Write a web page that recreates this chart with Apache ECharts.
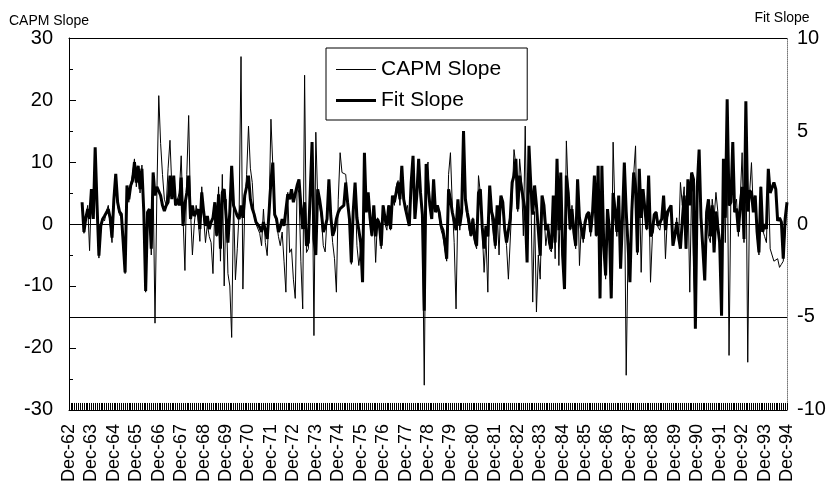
<!DOCTYPE html>
<html><head><meta charset="utf-8">
<script src="https://cdn.jsdelivr.net/npm/echarts@6/dist/echarts.min.js"></script>
<style>html,body{margin:0;padding:0;background:#fff}#c{width:838px;height:485px}</style>
</head><body><div id="c"></div>
<script>
// Monthly observations, Dec-62 .. Dec-94 (one row = 12 months, row k starts at Dec of year 62+k)
const monthNames = ['Jan','Feb','Mar','Apr','May','Jun','Jul','Aug','Sep','Oct','Nov','Dec'];
const firstYear = 62;   // Dec-62
const monthCount = 385; // Dec-62 .. Dec-94

const capmSlope = [
  null,null,null,null,null,null,null, 3,-1.5,1,3,-4.3,
  5,2,12,2,-5.5,-1,1,0.5,2,3,0,-3,
  3,8,3,1.5,1,-4,-8,6,3.5,6.5,8,10.5,
  6,9,5,9.5,1,-11,1,2,-5,6,-16,5,
  20.7,13,8,4,3,9,13.5,6,7,3,3,5,
  11,1,-7.5,8,17.5,2,-5,0,3,1,-2.8,6,
  1,-3,0,-2,-3,-8,3,-2,6,-6,8,-10,
  4,-8,-10,-18.3,4,-9,-4,2,27,-10.5,3,8,
  15.8,9,6.7,1.3,0,-0.3,-1.5,-3.5,2.4,-3,-5.1,1.9,
  16.9,9.4,1.3,0.3,-2,-3.5,-1.3,-6,-11,5.1,-4.6,-4,
  -8.9,-12,6,5,-6,-13.7,24,-4.6,-4,3,12,-18,
  14.8,4,3,1,-3.5,-4.5,1,7,1,-3,-5.6,-11,
  4,11.5,8.3,8.3,8,4,0,-6.5,1,6,-3.5,-6.7,
  -4,-9,11,2,5,0,-2,2,-6.2,1,-1,-4,
  3,0,-1,3,-1,4,3,6,7,3,9,4,
  2,3,0,7,10.5,1,5,10,5,0,-26,8,
  10,3,2,6,2,3,1,-1,-2,-4,-6,8,
  11.5,3,-3,-13.7,3,-1,2,14,3,1,-1,-2,
  1,-3,-4,7.8,5,-1,-7.8,-2,-11,6,1,-2,
  -4,2,-5,4,3,-1,-3.5,-8.9,-8.9,4,12,9.4,
  2,10.5,7,-1.9,15.8,-5,12,5,-12.6,2,-14.2,-5,
  -8.9,3,2,-3.5,-1,-4,-4.5,4,-5.6,9,-6.7,7,
  -6.7,-9,13.4,5,-1,3,-2,-4,7,-6.7,0,-3,
  -0.5,1,2,-2,1,6,-2,8,-11,8,-3.5,-8.9,
  2,-1,-11,13.2,2,-2,4,-7,0,9,-24.4,-4,
  -9,2,8,12.6,-5,8,-7.8,4,2,-1,7,-9.4,
  -2,1,2,-0.5,-1,1,4,-5.6,1,2,3,-3.5,
  -2,1,-3,6.7,3,6,-4,6,-11,6,-7,-15,
  5,11.5,2,-4,-5,1,-2,-3,4,1,5.1,2,
  -5,-14,10,-3,14,-21.2,5,12,3,4,-2,4,
  11.5,-3,14,-22.3,5,9.9,2,4,-2,-5,6,-1,
  -2,-3,7,-4,-5,-6,-6,-5.6,-7,-6.5,-6,-1,
  3
];

const fitSlope = [
  null,null,null,null,null,null,null, 1.17,-0.43,0.33,0.8,0.27,
  1.87,0.27,4.13,1.0,-1.7,-0.1,0.27,0.43,0.5,0.8,0.33,-0.73,
  1.33,2.7,1.17,0.67,0.53,-1.0,-2.6,2.07,1.33,2.07,2.33,3.33,
  2.23,3.13,1.87,2.97,0.67,-3.6,0.63,0.8,-1.33,2.77,1.53,2.0,
  1.97,1.53,1.0,0.7,1.0,1.17,2.6,1.33,2.6,1.0,1.33,1.0,
  2.5,-0.1,1.07,1.67,2.6,0.27,1.0,0.43,0.43,0.8,-0.27,1.7,
  0.67,-0.1,0.43,-0.27,0.1,0.33,1.17,-0.63,1.6,-1.33,1.7,1.87,
  1.87,-1.0,0.67,3.13,1.0,1.0,0.43,0.27,1.0,0.33,1.53,2.0,
  2.6,1.33,0.83,0.53,0.1,0,-0.17,-0.43,0.1,-0.33,-0.8,0.63,
  2.33,3.3,0.5,0.27,-0.43,-0.17,0.27,-0.1,0,1.6,1.33,1.87,
  1.17,1.17,2.07,2.4,1.0,-0.27,1.17,-1.17,-1.0,1.67,4.4,-0.8,
  -1.67,1.87,1.33,0.63,-0.43,-0.17,0.27,2.4,0.43,-0.63,-0.33,0.27,
  0.63,0.83,0.83,1.0,2.23,1.17,0.27,-2.07,0.67,2.23,0.33,-0.33,
  -1.0,-3.13,3.83,0.63,1.7,0.33,-0.63,1.0,-0.67,0.27,0,-1.17,
  1.0,0.33,-0.1,1.0,-0.27,1.53,1.17,1.7,2.23,1.33,3.13,1.33,
  0.8,0.8,-0.1,2.23,3.67,0.27,1.53,3.5,1.67,0.5,-4.67,3.23,
  3.13,1.0,0.27,2.4,0.63,1.0,0.63,-0.1,-0.33,-1.0,-1.87,1.87,
  1.33,0.63,0.17,-0.33,1.33,-0.1,0.63,5.0,1.33,0.63,0.1,-0.63,
  0.27,-0.8,-1.17,1.67,1.87,-0.17,-1.33,-0.1,-0.67,2.07,0.67,0.27,
  -1.17,1.0,0,1.53,1.17,-0.27,-1.0,-1.0,0.33,2.23,2.6,3.5,
  0.8,2.6,2.6,1.33,0.67,-2.07,4.2,2.07,0.5,2.07,1.0,-0.33,
  -1.7,1.53,1.0,-0.33,0,-1.0,-1.33,1.53,-1.0,3.5,-0.33,2.77,
  -1.67,-3.5,2.6,1.67,-0.27,0.8,-0.43,-1.17,2.4,0.33,0.27,-0.8,
  0.1,0.5,0.63,-0.43,0.63,2.6,-0.63,3.13,-4.0,3.13,-1.17,-2.77,
  0.8,-0.27,-4.0,1.67,0.8,-0.43,1.53,-2.4,0.27,3.3,0.67,-1.17,
  -3.13,0.67,2.77,2.0,-1.53,2.97,0.33,1.87,0.8,-0.27,2.6,-0.67,
  -0.43,0.5,0.63,-0.1,-0.1,0.27,1.53,-0.33,0.63,0.63,1.0,-1.17,
  -0.63,0.1,-0.67,-1.33,0.17,1.53,-1.33,2.4,1.0,2.77,2.4,-5.63,
  2.0,4.0,0.33,-1.33,-3.03,0.63,1.33,-0.67,1.0,-1.53,0.67,0.63,
  -1.0,-4.93,3.5,0.33,6.7,1.0,1.17,4.4,0.63,0.83,-0.43,1.0,
  2.0,-0.8,6.6,0.67,1.8,1.67,0.63,1.53,-0.43,-1.53,2.0,-0.43,
  0,-0.27,2.97,1.67,1.7,2.23,1.87,0.17,0.33,0.1,-1.87,0.27,
  1.17
];

const leftTicks = {min: -30, max: 30, interval: 10};
const rightTicks = {min: -10, max: 10, interval: 5};
const refLinesCapm = [0, -15];

const categories = [];
for (let i = 0; i < monthCount; i++) {
  const m = (11 + i) % 12;
  const y = firstYear + Math.floor((11 + i) / 12);
  categories.push(monthNames[m] + '-' + String(y % 100).padStart(2, '0'));
}

// legend line samples: bounding box 40x14, a horizontal band in the middle
const thinIcon = 'path://M0,0L40,0L40,0.001L0,0.001Z M0,6.5L40,6.5L40,7.5L0,7.5Z M0,13.999L40,13.999L40,14L0,14Z';
const thickIcon = 'path://M0,0L40,0L40,0.001L0,0.001Z M0,5.5L40,5.5L40,8.5L0,8.5Z M0,13.999L40,13.999L40,14L0,14Z';

const FONT = "'Liberation Sans', Arial, Helvetica, sans-serif";
const chart = echarts.init(document.getElementById('c'), null, {renderer: 'canvas'});
chart.setOption({
  animation: false,
  backgroundColor: '#fff',
  textStyle: {fontFamily: FONT, color: '#000'},
  grid: {left: 69, right: 51, top: 38, bottom: 74, show: false},
  legend: {
    orient: 'vertical', left: 326, top: 48,
    padding: [11, 26, 9, 10], itemGap: 10, itemWidth: 40, itemHeight: 14,
    borderColor: '#000', borderWidth: 1, backgroundColor: '#fff',
    textStyle: {fontSize: 21, color: '#000', fontFamily: FONT},
    itemStyle: {color: '#000', borderWidth: 0},
    data: [
      {name: 'CAPM Slope', icon: thinIcon},
      {name: 'Fit Slope', icon: thickIcon}
    ]
  },
  xAxis: [{
    type: 'category', data: categories, boundaryGap: false,
    axisLine: {onZero: false, lineStyle: {color: '#000', width: 1}},
    axisTick: {inside: true, length: 7, interval: 0, lineStyle: {color: '#000', width: 1}},
    axisLabel: {interval: (idx) => idx % 12 === 0, rotate: 90, fontSize: 18, color: '#000', margin: 14, fontFamily: FONT},
    splitLine: {show: false}
  }, {
    type: 'category', data: categories, boundaryGap: false, position: 'top',
    axisLine: {onZero: false, lineStyle: {color: '#000', width: 1}},
    axisTick: {show: false}, axisLabel: {show: false}, splitLine: {show: false}
  }],
  yAxis: [{
    type: 'value', min: leftTicks.min, max: leftTicks.max, interval: leftTicks.interval,
    name: 'CAPM Slope', nameLocation: 'end', nameGap: 8,
    nameTextStyle: {fontSize: 14, color: '#000', align: 'center', padding: [0, 40, 0, 0], fontFamily: FONT},
    axisLine: {show: true, onZero: false, lineStyle: {color: '#000', width: 1}},
    axisTick: {show: true, inside: true, length: 7, lineStyle: {color: '#000'}},
    minorTick: {show: true, splitNumber: 2, length: 4, lineStyle: {color: '#000'}},
    splitLine: {show: false},
    axisLabel: {fontSize: 20, color: '#000', margin: 16, fontFamily: FONT}
  }, {
    type: 'value', min: rightTicks.min, max: rightTicks.max, interval: rightTicks.interval, position: 'right',
    name: 'Fit Slope', nameLocation: 'end', nameGap: 13,
    nameTextStyle: {fontSize: 14, color: '#000', align: 'center', padding: [0, 10, 0, 0], fontFamily: FONT},
    axisLine: {show: true, onZero: false, lineStyle: {color: '#777', width: 1, type: 'dotted'}},
    axisTick: {show: false},
    splitLine: {show: false},
    axisLabel: {fontSize: 20, color: '#000', margin: 10, fontFamily: FONT}
  }],
  series: [{
    name: 'CAPM Slope', type: 'line', data: capmSlope, yAxisIndex: 0,
    symbol: 'none', connectNulls: false,
    lineStyle: {color: '#000', width: 1},
    itemStyle: {color: '#000'},
    markLine: {
      silent: true, symbol: 'none', label: {show: false},
      lineStyle: {color: '#000', type: 'solid', width: 1},
      data: refLinesCapm.map(v => ({yAxis: v}))
    }
  }, {
    name: 'Fit Slope', type: 'line', data: fitSlope, yAxisIndex: 1,
    symbol: 'none',
    lineStyle: {color: '#000', width: 3},
    itemStyle: {color: '#000'}
  }]
});
</script></body></html>
